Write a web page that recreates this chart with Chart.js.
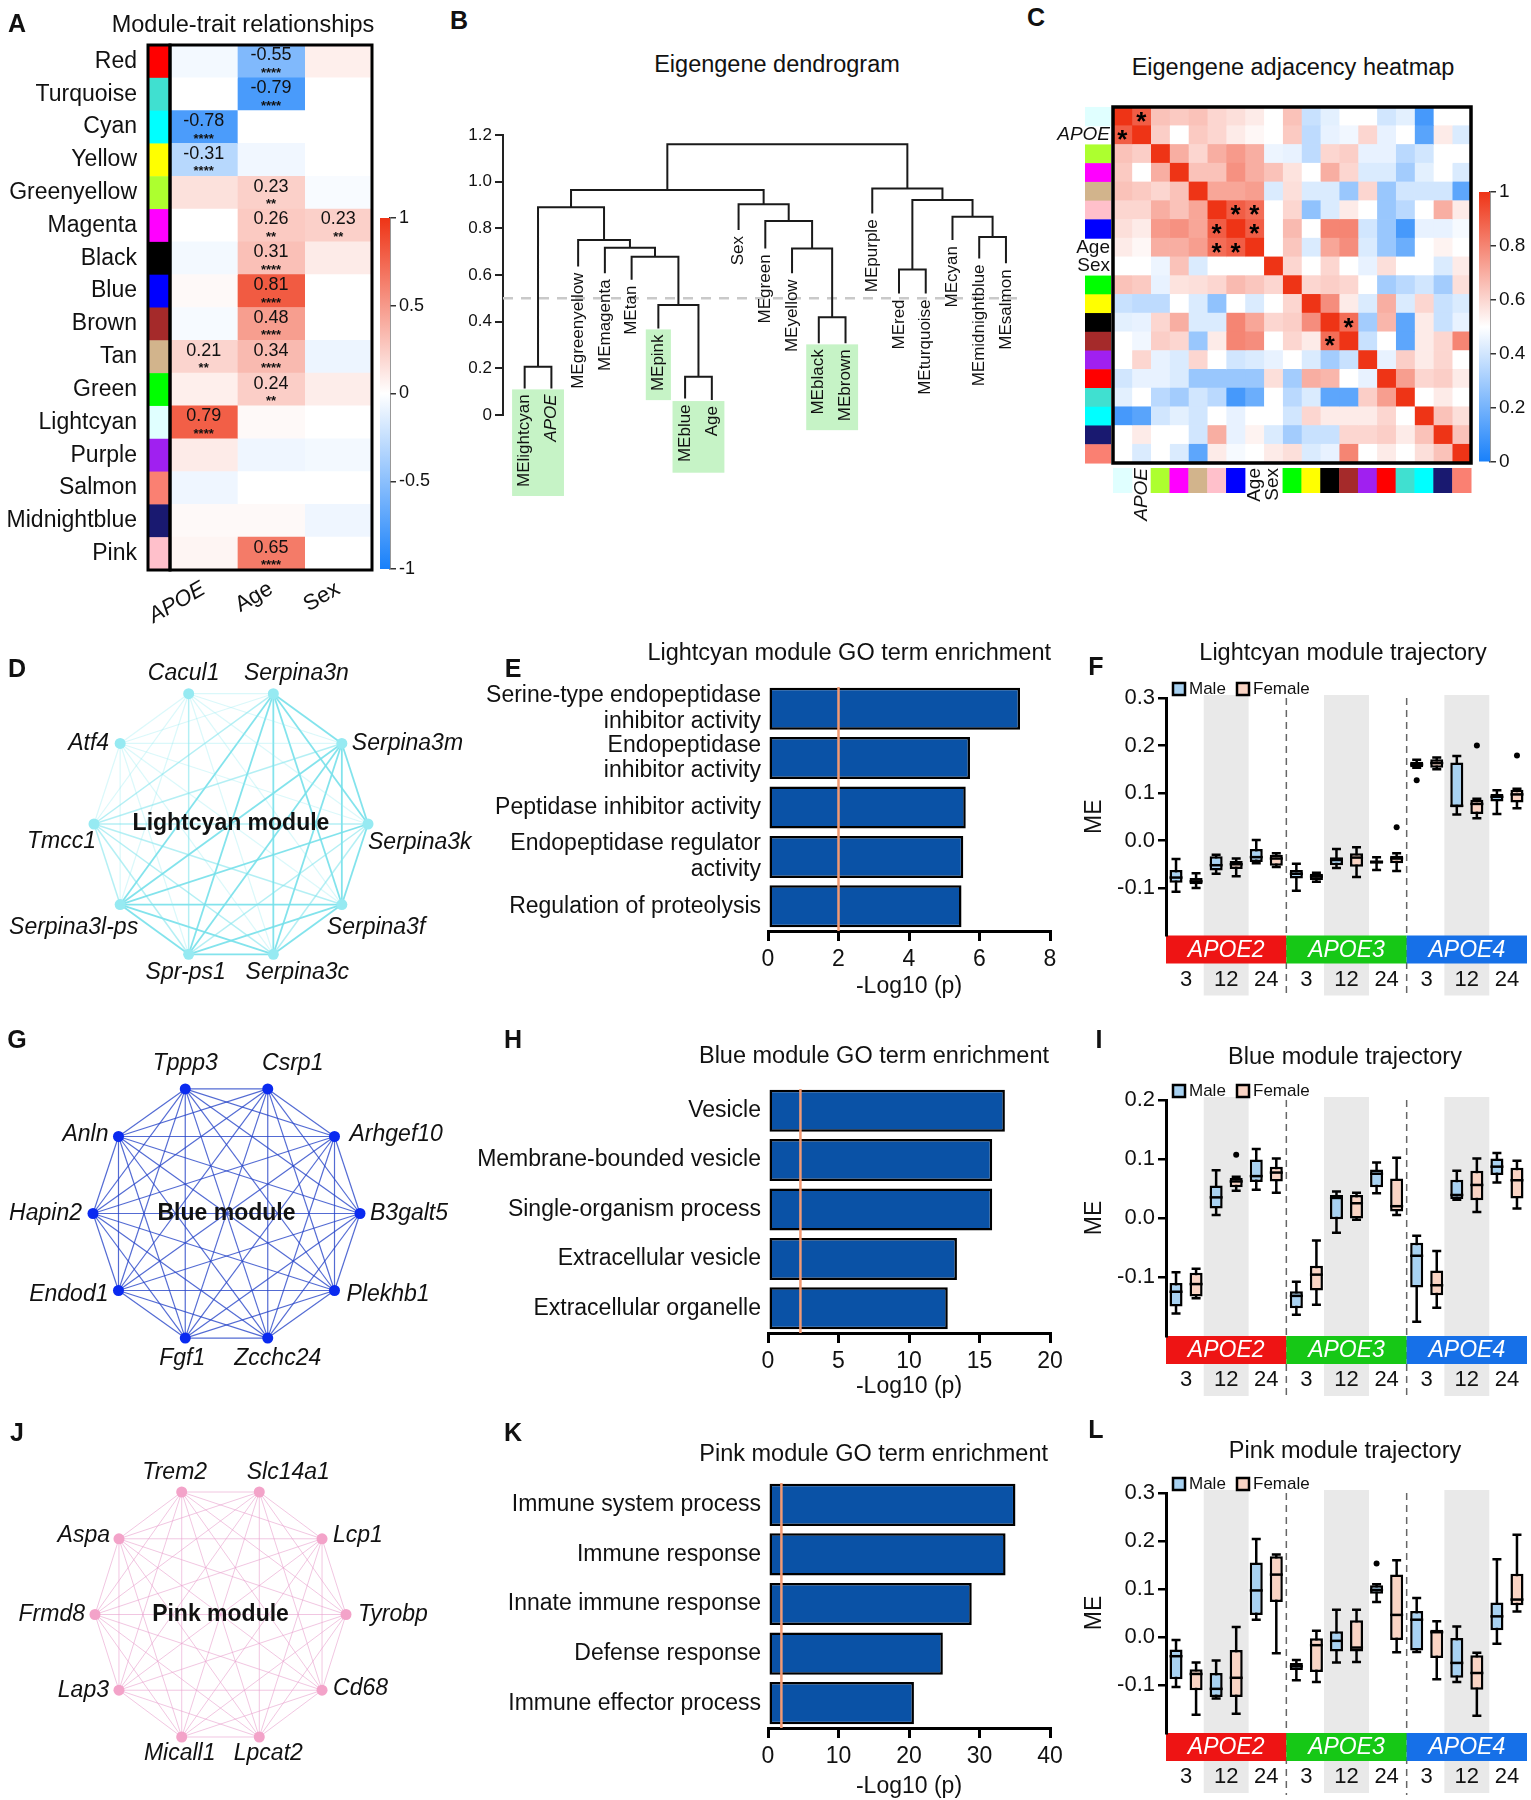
<!DOCTYPE html>
<html>
<head>
<meta charset="utf-8">
<script src="https://cdn.jsdelivr.net/npm/chart.js@4.4.1/dist/chart.umd.min.js"></script>
<style>
  body { margin: 0; background: #fff; }
  #page { position: relative; width: 1531px; height: 1800px; overflow: hidden; background: #fff;
          font-family: 'Liberation Sans', Arial, sans-serif; color: #111; }
  .txt { position: absolute; white-space: nowrap; line-height: 1; }
  canvas { position: absolute; }
</style>
</head>
<body>
<div id="page"></div>
<script>
// ---------- data ----------

// A: module-trait correlations
const moduleNames = ['Red', 'Turquoise', 'Cyan', 'Yellow', 'Greenyellow', 'Magenta', 'Black', 'Blue', 'Brown',
                     'Tan', 'Green', 'Lightcyan', 'Purple', 'Salmon', 'Midnightblue', 'Pink'];
const moduleColors = ['#ff0000', '#40e0d0', '#00ffff', '#ffff00', '#adff2f', '#ff00ff', '#000000', '#0000ff', '#a52a2a',
                      '#d2b48c', '#00ff00', '#e0ffff', '#a020f0', '#fa8072', '#191970', '#ffc0cb'];
const traitNames = ['APOE', 'Age', 'Sex'];
const apoeCorr = [-0.05, 0.00, -0.78, -0.31, 0.15, 0.00, -0.05, 0.03, -0.04, 0.21, 0.08, 0.79, 0.10, -0.07, 0.03, 0.05];
const ageCorr  = [-0.55, -0.79, 0.00, -0.06, 0.23, 0.26, 0.31, 0.81, 0.48, 0.34, 0.24, 0.03, -0.07, 0.00, 0.03, 0.65];
const sexCorr  = [0.08, 0.00, 0.00, 0.00, -0.03, 0.23, 0.10, 0.00, 0.00, -0.08, 0.09, 0.00, -0.05, 0.00, -0.07, 0.00];
const apoeStars = ['', '', '****', '****', '', '', '', '', '', '**', '', '****', '', '', '', ''];
const ageStars  = ['****', '****', '', '', '**', '**', '****', '****', '****', '****', '**', '', '', '', '', '****'];
const sexStars  = ['', '', '', '', '', '**', '', '', '', '', '', '', '', '', '', ''];

// B: eigengene dendrogram
const leafNames = ['MElightcyan', 'APOE', 'MEgreenyellow', 'MEmagenta', 'MEtan', 'MEpink', 'MEblue', 'Age', 'Sex',
                   'MEgreen', 'MEyellow', 'MEblack', 'MEbrown', 'MEpurple', 'MEred', 'MEturquoise', 'MEcyan',
                   'MEmidnightblue', 'MEsalmon'];
const leafEnds = [0.114, 0.114, 0.636, 0.607, 0.580, 0.371, 0.071, 0.064, 0.793, 0.714, 0.607, 0.307, 0.307,
                  0.864, 0.521, 0.521, 0.750, 0.671, 0.650];
// [left, right, height]; ids from 19 up name earlier merges
const merges = [
  [0, 1, 0.207], [6, 7, 0.164], [5, 20, 0.471], [4, 21, 0.678], [3, 22, 0.717], [2, 23, 0.750],
  [19, 24, 0.890], [11, 12, 0.419], [10, 26, 0.714], [9, 27, 0.831], [8, 28, 0.903], [25, 29, 0.964],
  [14, 15, 0.624], [17, 18, 0.763], [16, 32, 0.850], [31, 33, 0.921], [13, 34, 0.971], [30, 35, 1.160]
];
const cutHeight = 0.5;
const highlightGroups = [[0, 1], [5, 5], [6, 7], [11, 12]];

// C: eigengene adjacency (lower triangle, diagonal = 1)
const adjNames = ['lightcyan', 'APOE', 'greenyellow', 'magenta', 'tan', 'pink', 'blue', 'Age', 'Sex', 'green',
                  'yellow', 'black', 'brown', 'purple', 'red', 'turquoise', 'cyan', 'midnightblue', 'salmon'];
const adjColors = ['#e0ffff', null, '#adff2f', '#ff00ff', '#d2b48c', '#ffc0cb', '#0000ff', null, null, '#00ff00',
                   '#ffff00', '#000000', '#a52a2a', '#a020f0', '#ff0000', '#40e0d0', '#00ffff', '#191970', '#fa8072'];
const adjLower = [
  [0.90],
  [0.65, 0.62],
  [0.63, 0.50, 0.70],
  [0.65, 0.63, 0.60, 0.65],
  [0.60, 0.60, 0.70, 0.65, 0.72],
  [0.58, 0.55, 0.75, 0.77, 0.72, 0.90],
  [0.55, 0.52, 0.70, 0.70, 0.74, 0.86, 0.90],
  [0.50, 0.50, 0.46, 0.65, 0.42, 0.50, 0.50, 0.50],
  [0.65, 0.63, 0.45, 0.57, 0.58, 0.60, 0.67, 0.64, 0.60],
  [0.38, 0.36, 0.36, 0.50, 0.42, 0.26, 0.50, 0.42, 0.50, 0.60],
  [0.44, 0.45, 0.60, 0.70, 0.42, 0.42, 0.80, 0.72, 0.60, 0.62, 0.78],
  [0.50, 0.47, 0.62, 0.60, 0.28, 0.55, 0.80, 0.78, 0.50, 0.60, 0.55, 0.86],
  [0.50, 0.60, 0.45, 0.42, 0.60, 0.50, 0.40, 0.42, 0.45, 0.50, 0.42, 0.30, 0.38],
  [0.40, 0.45, 0.45, 0.42, 0.28, 0.28, 0.28, 0.28, 0.58, 0.30, 0.70, 0.68, 0.50, 0.45],
  [0.44, 0.50, 0.35, 0.30, 0.40, 0.35, 0.10, 0.18, 0.50, 0.35, 0.42, 0.15, 0.15, 0.62, 0.74],
  [0.10, 0.14, 0.40, 0.44, 0.40, 0.50, 0.45, 0.50, 0.50, 0.40, 0.60, 0.55, 0.55, 0.55, 0.60, 0.50],
  [0.50, 0.55, 0.50, 0.50, 0.40, 0.70, 0.45, 0.53, 0.42, 0.30, 0.38, 0.38, 0.60, 0.60, 0.62, 0.55, 0.65],
  [0.50, 0.42, 0.50, 0.42, 0.15, 0.55, 0.48, 0.50, 0.55, 0.58, 0.42, 0.45, 0.80, 0.50, 0.55, 0.50, 0.58, 0.65]
];
const adjStars = [[0, 1], [5, 6], [5, 7], [6, 7], [11, 12]];

// D, G, J: hub gene networks (edge weights as lower-triangle rows, 0 = none)
const lightcyanGenes = ['Serpina3k', 'Serpina3m', 'Serpina3n', 'Cacul1', 'Atf4', 'Tmcc1', 'Serpina3l-ps', 'Spr-ps1', 'Serpina3c', 'Serpina3f'];
const lightcyanEdges = ['3', '33', '111', '1111', '22211', '333112', '2332123', '23311233', '333112333'];
const blueGenes = ['B3galt5', 'Arhgef10', 'Csrp1', 'Tppp3', 'Anln', 'Hapin2', 'Endod1', 'Fgf1', 'Zcchc24', 'Plekhb1'];
const blueEdges = ['2', '22', '222', '2222', '22222', '222222', '2222222', '22222222', '222222222'];
const pinkGenes = ['Tyrobp', 'Lcp1', 'Slc14a1', 'Trem2', 'Aspa', 'Frmd8', 'Lap3', 'Micall1', 'Lpcat2', 'Cd68'];
const pinkEdges = ['2', '22', '222', '2222', '22222', '222222', '2222222', '22222222', '222222222'];

// E, H, K: GO term enrichment
const lightcyanTerms = [['Serine-type endopeptidase', 'inhibitor activity'], ['Endopeptidase', 'inhibitor activity'],
                        'Peptidase inhibitor activity', ['Endopeptidase regulator', 'activity'], 'Regulation of proteolysis'];
const lightcyanLogP = [7.15, 5.73, 5.61, 5.54, 5.49];
const blueTerms = ['Vesicle', 'Membrane-bounded vesicle', 'Single-organism process', 'Extracellular vesicle', 'Extracellular organelle'];
const blueLogP = [16.8, 15.9, 15.9, 13.4, 12.75];
const pinkTerms = ['Immune system process', 'Immune response', 'Innate immune response', 'Defense response', 'Immune effector process'];
const pinkLogP = [35.1, 33.7, 28.9, 24.8, 20.7];
const goCutoffs = [2.0, 2.3, 1.9];

// F, I, L: module eigengene trajectories, [min, q1, median, q3, max]
const genotypes = ['APOE2', 'APOE3', 'APOE4'];
const ageGroups = ['3', '12', '24', '3', '12', '24', '3', '12', '24'];
const lightcyanMale = [
  [-0.108, -0.089, -0.078, -0.062, -0.039], [-0.070, -0.063, -0.052, -0.033, -0.030], [-0.048, -0.045, -0.035, -0.018, 0.001],
  [-0.106, -0.080, -0.070, -0.062, -0.049], [-0.058, -0.052, -0.041, -0.035, -0.018], [-0.062, -0.049, -0.045, -0.042, -0.035],
  [0.153, 0.154, 0.160, 0.166, 0.170], [0.055, 0.070, 0.073, 0.164, 0.178], [0.056, 0.082, 0.092, 0.098, 0.106]];
const lightcyanFemale = [
  [-0.100, -0.092, -0.086, -0.079, -0.069], [-0.075, -0.060, -0.050, -0.043, -0.038], [-0.056, -0.053, -0.038, -0.030, -0.027],
  [-0.087, -0.083, -0.076, -0.070, -0.068], [-0.077, -0.055, -0.036, -0.027, -0.014], [-0.064, -0.048, -0.038, -0.032, -0.027],
  [0.150, 0.153, 0.163, 0.171, 0.175], [0.047, 0.056, 0.077, 0.086, 0.088], [0.068, 0.080, 0.097, 0.107, 0.109]];
const lightcyanMaleOut = [[], [], [], [], [], [], [0.127], [], []];
const lightcyanFemaleOut = [[], [], [], [], [], [0.028], [], [0.200], [0.179]];
const blueMale = [
  [-0.162, -0.150, -0.125, -0.110, -0.092], [0.005, 0.016, 0.035, 0.055, 0.081], [0.048, 0.061, 0.071, 0.099, 0.117],
  [-0.164, -0.153, -0.132, -0.124, -0.108], [-0.025, -0.002, 0.034, 0.039, 0.045], [0.042, 0.052, 0.075, 0.082, 0.094],
  [-0.176, -0.118, -0.064, -0.042, -0.030], [0.031, 0.032, 0.039, 0.065, 0.080], [0.060, 0.073, 0.087, 0.101, 0.110]];
const blueFemale = [
  [-0.136, -0.133, -0.112, -0.093, -0.086], [0.046, 0.052, 0.062, 0.068, 0.070], [0.043, 0.062, 0.077, 0.087, 0.101],
  [-0.147, -0.123, -0.096, -0.081, -0.038], [-0.003, -0.001, 0.025, 0.039, 0.043], [0.005, 0.011, 0.020, 0.067, 0.102],
  [-0.152, -0.131, -0.114, -0.089, -0.056], [0.010, 0.030, 0.056, 0.080, 0.101], [0.016, 0.033, 0.064, 0.085, 0.097]];
const blueMaleOut = [[], [], [], [], [], [], [], [], []];
const blueFemaleOut = [[], [0.107], [], [], [], [], [], [], []];
const pinkMale = [
  [-0.104, -0.088, -0.040, -0.026, -0.006], [-0.128, -0.125, -0.108, -0.075, -0.049], [0.036, 0.046, 0.097, 0.155, 0.204],
  [-0.090, -0.069, -0.061, -0.054, -0.048], [-0.053, -0.030, -0.008, 0.012, 0.057], [0.073, 0.090, 0.098, 0.108, 0.110],
  [-0.031, -0.028, 0.036, 0.054, 0.081], [-0.094, -0.085, -0.054, -0.002, 0.022], [-0.014, 0.014, 0.043, 0.072, 0.162]];
const pinkFemale = [
  [-0.162, -0.111, -0.077, -0.067, -0.053], [-0.160, -0.125, -0.085, -0.027, 0.021], [-0.034, 0.073, 0.130, 0.168, 0.172],
  [-0.094, -0.073, -0.017, 0.000, 0.013], [-0.052, -0.030, -0.022, 0.035, 0.057], [-0.032, -0.006, 0.046, 0.130, 0.160],
  [-0.088, -0.044, 0.010, 0.015, 0.033], [-0.164, -0.110, -0.075, -0.038, -0.033], [0.053, 0.066, 0.078, 0.132, 0.213]];
const pinkMaleOut = [[], [], [], [], [], [0.153], [], [], []];
const pinkFemaleOut = [[], [], [], [], [], [], [], [], []];

// ---------- setup ----------
const SANS = "'Liberation Sans', Arial, Helvetica, sans-serif";
Chart.defaults.font.family = SANS;
Chart.defaults.color = '#111';
Chart.defaults.plugins.legend.display = false;
Chart.defaults.plugins.tooltip.enabled = false;

const page = document.getElementById('page');

function makeCanvas(left, top, width, height) {
  const c = document.createElement('canvas');
  c.width = width;
  c.height = height;
  c.style.left = left + 'px';
  c.style.top = top + 'px';
  c.style.width = width + 'px';
  c.style.height = height + 'px';
  page.appendChild(c);
  return c;
}

function addText(text, x, y, css, anchor) {
  const d = document.createElement('div');
  d.className = 'txt';
  d.textContent = text;
  d.style.cssText = css;
  d.style.left = x + 'px';
  d.style.top = y + 'px';
  const tx = anchor === 'right' ? '-100%' : anchor === 'left' ? '0' : '-50%';
  d.style.transform = 'translate(' + tx + ', -50%)';
  page.appendChild(d);
}

function base(extra) {
  return Object.assign({responsive: false, devicePixelRatio: 1, animation: false, events: []}, extra);
}

// fix an axis box to a set size and drop the label overhang padding
function fitTo(size) {
  return s => {
    if (s.isHorizontal()) s.height = size; else s.width = size;
    s.paddingTop = s.paddingBottom = s.paddingLeft = s.paddingRight = 0;
  };
}

const WHITE = [255, 255, 255], HOT = [238, 52, 22], COLD = [24, 128, 250];
function mix(a, b, t) {
  return 'rgb(' + a.map((v, k) => Math.round(v + (b[k] - v) * t)).join(',') + ')';
}
function divColor(t) {
  return t >= 0 ? mix(WHITE, HOT, Math.min(t, 1)) : mix(WHITE, COLD, Math.min(-t, 1));
}

function colorBar(left, top, width, height, pad, axisW, min, max, step, fontSize) {
  new Chart(makeCanvas(left, top, width, height), {
    type: 'bar',
    data: {labels: [''], datasets: [{
      data: [[min, max]], barPercentage: 1, categoryPercentage: 1, borderWidth: 0,
      backgroundColor: c => {
        const a = c.chart.chartArea;
        if (!a) return '#fff';
        const g = c.chart.ctx.createLinearGradient(0, a.bottom, 0, a.top);
        g.addColorStop(0, divColor(-1));
        g.addColorStop(0.5, divColor(0));
        g.addColorStop(1, divColor(1));
        return g;
      }
    }]},
    options: base({
      layout: {padding: pad},
      scales: {
        x: {display: false},
        y: {position: 'right', min: min, max: max,
            ticks: {stepSize: step, callback: v => String(Math.round(v * 10) / 10), font: {size: fontSize}, color: '#111', padding: 3},
            grid: {drawOnChartArea: false, tickLength: 6, color: '#333', lineWidth: 1.5},
            border: {color: '#333', width: 1.5},
            afterFit: fitTo(axisW)}
      }
    })
  });
}

// ---------- A: module-trait heatmap ----------
const traitCorr = [apoeCorr, ageCorr, sexCorr];
const traitStars = [apoeStars, ageStars, sexStars];

const heatAPlugin = {
  id: 'heatA',
  afterDatasetsDraw(chart) {
    const {ctx, chartArea: a, scales: {x, y}} = chart;
    const rowH = (a.bottom - a.top) / moduleNames.length;
    ctx.save();
    moduleColors.forEach((col, r) => {
      ctx.fillStyle = col;
      ctx.fillRect(a.left - 22, y.getPixelForValue(r) - rowH / 2, 22, rowH + 0.5);
    });
    ctx.fillStyle = '#111';
    ctx.textAlign = 'center';
    ctx.textBaseline = 'middle';
    traitStars.forEach((stars, c) => stars.forEach((s, r) => {
      if (!s) return;
      const cx = x.getPixelForValue(c + 0.5), cy = y.getPixelForValue(r);
      ctx.font = '18px ' + SANS;
      ctx.fillText(traitCorr[c][r].toFixed(2), cx, cy - 6);
      ctx.font = 'bold 13px ' + SANS;
      ctx.fillText(s, cx, cy + 12);
    }));
    ctx.strokeStyle = '#000';
    ctx.lineWidth = 3;
    ctx.strokeRect(a.left - 22, a.top, 22, a.bottom - a.top);
    ctx.strokeRect(a.left, a.top, a.right - a.left, a.bottom - a.top);
    ctx.restore();
  }
};

new Chart(makeCanvas(0, 30, 382, 600), {
  type: 'bar',
  data: {
    labels: moduleNames,
    datasets: traitCorr.map((vals, c) => ({
      data: vals.map(() => [c, c + 1]),
      backgroundColor: vals.map(divColor),
      borderWidth: 0, barPercentage: 1, categoryPercentage: 1, grouped: false
    }))
  },
  options: base({
    indexAxis: 'y',
    layout: {padding: {top: 15, right: 10, left: 0, bottom: 0}},
    scales: {
      x: {type: 'linear', min: 0, max: traitNames.length,
          afterBuildTicks: s => { s.ticks = traitNames.map((_, i) => ({value: i + 0.5})); },
          ticks: {callback: (v, i) => traitNames[i], minRotation: 30, maxRotation: 30, padding: 6, color: '#111',
                  font: c => ({size: 22, style: c.index === 0 ? 'italic' : 'normal'})},
          grid: {display: false, drawTicks: false}, border: {display: false},
          afterFit: fitTo(60)},
      y: {ticks: {font: {size: 23}, color: '#111', padding: 33, autoSkip: false},
          grid: {display: false, drawTicks: false}, border: {display: false},
          afterFit: fitTo(170)}
    }
  }),
  plugins: [heatAPlugin]
});
colorBar(372, 205, 70, 380, {left: 8, top: 13, right: 0, bottom: 16}, 52, -1, 1, 0.5, 18);

// ---------- B: dendrogram ----------
const treePts = [];
(function () {
  const pos = leafNames.map((_, i) => i);
  const hgt = leafEnds.slice();
  merges.forEach(([l, r, h]) => {
    treePts.push({x: pos[l], y: hgt[l]}, {x: pos[l], y: h}, {x: pos[r], y: h}, {x: pos[r], y: hgt[r]}, {x: pos[r], y: null});
    pos.push((pos[l] + pos[r]) / 2);
    hgt.push(h);
  });
})();

const dendroPlugin = {
  id: 'dendro',
  beforeDatasetsDraw(chart) {
    const {ctx, scales: {x, y}} = chart;
    ctx.save();
    ctx.font = '17px ' + SANS;
    ctx.fillStyle = '#c6f3c6';
    highlightGroups.forEach(([a, b]) => {
      let top = 0, w = 0;
      for (let i = a; i <= b; i++) {
        top = Math.max(top, y.getPixelForValue(leafEnds[i]));
        w = Math.max(w, ctx.measureText(leafNames[i]).width);
      }
      const x0 = x.getPixelForValue(a - 0.47), x1 = x.getPixelForValue(b + 0.47);
      ctx.fillRect(x0, top + 1, x1 - x0, w + 14);
    });
    ctx.restore();
  },
  afterDatasetsDraw(chart) {
    const {ctx, scales: {x, y}} = chart;
    ctx.save();
    ctx.fillStyle = '#111';
    ctx.textAlign = 'right';
    ctx.textBaseline = 'middle';
    leafNames.forEach((name, i) => {
      ctx.font = (name === 'APOE' ? 'italic ' : '') + '17px ' + SANS;
      ctx.save();
      ctx.translate(x.getPixelForValue(i), y.getPixelForValue(leafEnds[i]) + 6);
      ctx.rotate(-Math.PI / 2);
      ctx.fillText(name, 0, 0);
      ctx.restore();
    });
    ctx.restore();
  }
};

new Chart(makeCanvas(440, 95, 590, 420), {
  type: 'scatter',
  data: {datasets: [
    {data: treePts, showLine: true, spanGaps: false, borderColor: '#1a1a1a', borderWidth: 2, pointRadius: 0, clip: false},
    {data: [{x: -0.81, y: cutHeight}, {x: leafNames.length - 0.4, y: cutHeight}], showLine: true, borderColor: '#c9c9c9',
     borderWidth: 2.5, borderDash: [10, 8], pointRadius: 0}
  ]},
  options: base({
    layout: {padding: {left: 0, top: 40, right: 8, bottom: 100}},
    scales: {
      x: {type: 'linear', min: -0.81, max: leafNames.length - 0.4, display: false},
      y: {min: 0, max: 1.2,
          ticks: {stepSize: 0.2, callback: v => Math.abs(v) < 1e-9 ? '0' : v.toFixed(1), font: {size: 17}, color: '#111', padding: 3},
          grid: {drawOnChartArea: false, tickLength: 8, color: '#222', lineWidth: 2},
          border: {color: '#222', width: 2},
          afterFit: fitTo(63)}
    }
  }),
  plugins: [dendroPlugin]
});

// ---------- C: adjacency heatmap ----------
const adjacency = adjNames.map((_, i) => adjNames.map((_, j) =>
  i === j ? 1 : (i > j ? adjLower[i - 1][j] : adjLower[j - 1][i])));

const heatCPlugin = {
  id: 'heatC',
  afterDatasetsDraw(chart) {
    const {ctx, chartArea: a, scales: {x, y}} = chart;
    const cell = (a.right - a.left) / adjNames.length;
    ctx.save();
    adjNames.forEach((name, i) => {
      const cy = y.getPixelForValue(i), cx = x.getPixelForValue(i + 0.5);
      if (adjColors[i]) {
        ctx.fillStyle = adjColors[i];
        ctx.fillRect(a.left - 28, cy - cell / 2, 26, cell + 0.5);
        ctx.fillRect(cx - cell / 2, a.bottom + 5, cell + 0.5, 25);
      } else {
        ctx.fillStyle = '#111';
        ctx.font = (name === 'APOE' ? 'italic ' : '') + '19px ' + SANS;
        ctx.textAlign = 'right';
        ctx.textBaseline = 'middle';
        ctx.fillText(name, a.left - 3, cy);
        ctx.save();
        ctx.translate(cx, a.bottom + 5);
        ctx.rotate(-Math.PI / 2);
        ctx.fillText(name, 0, 0);
        ctx.restore();
      }
    });
    ctx.fillStyle = '#000';
    ctx.font = 'bold 26px ' + SANS;
    ctx.textAlign = 'center';
    ctx.textBaseline = 'middle';
    adjStars.forEach(([r, c]) => {
      ctx.fillText('*', x.getPixelForValue(c + 0.5), y.getPixelForValue(r) + 6);
      ctx.fillText('*', x.getPixelForValue(r + 0.5), y.getPixelForValue(c) + 6);
    });
    ctx.strokeStyle = '#000';
    ctx.lineWidth = 3.5;
    ctx.strokeRect(a.left, a.top, a.right - a.left, a.bottom - a.top);
    ctx.restore();
  }
};

new Chart(makeCanvas(1040, 95, 435, 430), {
  type: 'bar',
  data: {
    labels: adjNames,
    datasets: adjNames.map((_, c) => ({
      data: adjNames.map(() => [c, c + 1]),
      backgroundColor: adjNames.map((_, r) => divColor((adjacency[r][c] - 0.5) * 2)),
      borderWidth: 0, barPercentage: 1, categoryPercentage: 1, grouped: false
    }))
  },
  options: base({
    indexAxis: 'y',
    layout: {padding: {left: 73, top: 12, right: 4, bottom: 62}},
    scales: {
      x: {type: 'linear', min: 0, max: adjNames.length, display: false},
      y: {display: false}
    }
  }),
  plugins: [heatCPlugin]
});
colorBar(1472, 180, 59, 295, {left: 7, top: 12, right: 0, bottom: 13}, 41, 0, 1, 0.2, 19);

// ---------- D, G, J: networks ----------
function network(left, top, width, height, pad, genes, edgeRows, look, labelPos, title) {
  const n = genes.length;
  const nodes = genes.map((g, i) => ({x: Math.cos(i * 2 * Math.PI / n), y: Math.sin(i * 2 * Math.PI / n)}));
  const edges = [];
  edgeRows.forEach((row, k) => row.split('').forEach((w, j) => {
    if (+w) edges.push({data: [Object.assign({}, nodes[k + 1]), Object.assign({}, nodes[j])], showLine: true,
                        borderColor: look.edge[+w], borderWidth: look.width[+w], pointRadius: 0, clip: false});
  }));
  new Chart(makeCanvas(left, top, width, height), {
    type: 'scatter',
    data: {datasets: [{data: nodes, pointRadius: look.r, pointBackgroundColor: look.node, pointBorderWidth: 0, clip: false}].concat(edges)},
    options: base({
      layout: {padding: pad},
      scales: {x: {min: -1, max: 1, display: false}, y: {min: -1, max: 1, display: false}}
    }),
    plugins: [{
      id: 'netLabels',
      afterDatasetsDraw(chart) {
        const {ctx, chartArea: a} = chart;
        const pts = chart.getDatasetMeta(0).data;
        ctx.save();
        ctx.fillStyle = '#111';
        ctx.textBaseline = 'middle';
        ctx.font = 'italic 23px ' + SANS;
        genes.forEach((g, i) => {
          const [dx, dy, al] = labelPos[i];
          ctx.textAlign = al;
          ctx.fillText(g, pts[i].x + dx, pts[i].y + dy);
        });
        ctx.font = 'bold 23px ' + SANS;
        ctx.textAlign = 'center';
        ctx.fillText(title, (a.left + a.right) / 2, (a.top + a.bottom) / 2);
        ctx.restore();
      }
    }]
  });
}

network(0, 640, 480, 360, {left: 94, top: 47, right: 112, bottom: 39}, lightcyanGenes, lightcyanEdges,
  {r: 5.5, node: 'rgb(150,234,242)', edge: [null, 'rgba(150,235,240,0.35)', 'rgba(130,228,236,0.6)', 'rgba(118,224,234,0.9)'], width: [0, 1.2, 1.5, 1.8]},
  [[0, 19, 'left'], [10, 0, 'left'], [23, -20, 'center'], [-5, -20, 'center'], [-11, 0, 'right'],
   [2, 18, 'right'], [18, 23, 'right'], [-3, 18, 'center'], [24, 18, 'center'], [-15, 23, 'left']],
  'Lightcyan module');
network(0, 1050, 480, 340, {left: 93, top: 32.5, right: 120, bottom: 45.5}, blueGenes, blueEdges,
  {r: 5.5, node: '#0a2af0', edge: [null, 'rgba(40,70,200,0.5)', 'rgba(40,70,200,0.8)', 'rgba(40,70,200,1)'], width: [0, 1, 1.2, 1.6]},
  [[10, 0, 'left'], [15, -2, 'left'], [25, -25, 'center'], [0, -25, 'center'], [-10, -2, 'right'],
   [-11, 0, 'right'], [-10, 4, 'right'], [-3, 21, 'center'], [10, 21, 'center'], [12, 4, 'left']],
  'Blue module');
network(0, 1450, 480, 330, {left: 95, top: 35.7, right: 134, bottom: 36.7}, pinkGenes, pinkEdges,
  {r: 5.5, node: '#f3a3c9', edge: [null, 'rgba(232,160,205,0.35)', 'rgba(232,160,205,0.6)', 'rgba(232,160,205,0.9)'], width: [0, 1, 1, 1.4]},
  [[12, 0, 'left'], [11, -3, 'left'], [29, -19, 'center'], [-7, -19, 'center'], [-9, -3, 'right'],
   [-10, 0, 'right'], [-10, 0, 'right'], [-2, 17, 'center'], [9, 17, 'center'], [11, -2, 'left']],
  'Pink module');

// ---------- E, H, K: GO enrichment bars ----------
function goChart(left, top, height, padTop, axisH, terms, logP, xMax, xStep, cutoff) {
  new Chart(makeCanvas(left, top, 640, height), {
    type: 'bar',
    data: {labels: terms, datasets: [{data: logP, backgroundColor: '#0a52a6', borderColor: '#000', borderWidth: 2.5,
                                       borderSkipped: false, barPercentage: 0.85, categoryPercentage: 1}]},
    options: base({
      indexAxis: 'y',
      layout: {padding: {top: padTop, right: 30, left: 0, bottom: 0}},
      scales: {
        x: {min: 0, max: xMax,
            ticks: {stepSize: xStep, font: {size: 23}, color: '#111', padding: 5},
            grid: {drawOnChartArea: false, tickLength: 10, color: '#000', lineWidth: 3},
            border: {color: '#000', width: 3},
            title: {display: true, text: '-Log10 (p)', font: {size: 23}, color: '#111', padding: 0},
            afterFit: fitTo(axisH)},
        y: {ticks: {font: {size: 23, lineHeight: 1.12}, color: '#111', padding: 7, autoSkip: false},
            grid: {display: false, drawTicks: false}, border: {display: false},
            afterFit: fitTo(328)}
      }
    }),
    plugins: [{
      id: 'cutoff',
      afterDatasetsDraw(chart) {
        const {ctx, chartArea: a, scales: {x}} = chart;
        const px = x.getPixelForValue(cutoff);
        ctx.save();
        ctx.strokeStyle = '#f39a72';
        ctx.lineWidth = 2.5;
        ctx.beginPath();
        ctx.moveTo(px, a.top + 3);
        ctx.lineTo(px, a.bottom);
        ctx.stroke();
        ctx.restore();
      }
    }]
  });
}
goChart(440, 640, 360, 44, 69, lightcyanTerms, lightcyanLogP, 8, 2, goCutoffs[0]);
goChart(440, 1040, 360, 46, 67, blueTerms, blueLogP, 20, 5, goCutoffs[1]);
goChart(440, 1430, 370, 50, 72, pinkTerms, pinkLogP, 40, 10, goCutoffs[2]);

// ---------- F, I, L: trajectory box plots ----------
const MALE_FILL = 'rgb(168,210,242)', FEMALE_FILL = 'rgb(250,212,196)';
const GENO_FILL = ['rgb(238,20,20)', 'rgb(22,200,22)', 'rgb(22,112,232)'];

function boxChart(left, top, height, padTop, axisH, yMin, yMax, male, female, maleOut, femaleOut) {
  const stats = [male, female], outs = [maleOut, femaleOut];
  const per = ageGroups.length / genotypes.length;
  const boxPlugin = {
    id: 'boxes',
    beforeDraw(chart) {
      const {ctx, chartArea: a, scales: {x}} = chart;
      const step = (a.right - a.left) / ageGroups.length;
      ctx.save();
      ctx.fillStyle = '#e9e9e9';
      ageGroups.forEach((g, i) => {
        if (g !== '12') return;
        const cx = x.getPixelForValue(i);
        ctx.fillRect(cx - step * 0.56, a.top - 3, step * 1.12, a.bottom - a.top + 63);
      });
      ctx.strokeStyle = '#666';
      ctx.lineWidth = 1.5;
      ctx.setLineDash([7, 5]);
      for (let g = 1; g < genotypes.length; g++) {
        const bx = x.getPixelForValue(g * per) - step / 2;
        ctx.beginPath();
        ctx.moveTo(bx, a.top);
        ctx.lineTo(bx, a.bottom + 62);
        ctx.stroke();
      }
      ctx.setLineDash([]);
      ctx.textAlign = 'center';
      ctx.textBaseline = 'middle';
      ctx.font = 'italic 23px ' + SANS;
      genotypes.forEach((name, g) => {
        const x0 = x.getPixelForValue(g * per) - step / 2, x1 = x.getPixelForValue(g * per + per - 1) + step / 2;
        ctx.fillStyle = GENO_FILL[g];
        ctx.fillRect(x0, a.bottom, x1 - x0, 28);
        ctx.fillStyle = '#fff';
        ctx.fillText(name, (x0 + x1) / 2, a.bottom + 15);
      });
      ctx.restore();
    },
    beforeDatasetsDraw(chart) {
      const {ctx, scales: {y}} = chart;
      ctx.save();
      ctx.strokeStyle = '#000';
      ctx.lineWidth = 2.5;
      stats.forEach((st, d) => chart.getDatasetMeta(d).data.forEach((bar, i) => {
        const lo = y.getPixelForValue(st[i][0]), hi = y.getPixelForValue(st[i][4]);
        ctx.beginPath();
        ctx.moveTo(bar.x, lo); ctx.lineTo(bar.x, hi);
        ctx.moveTo(bar.x - 4.5, lo); ctx.lineTo(bar.x + 4.5, lo);
        ctx.moveTo(bar.x - 4.5, hi); ctx.lineTo(bar.x + 4.5, hi);
        ctx.stroke();
      }));
      ctx.restore();
    },
    afterDatasetsDraw(chart) {
      const {ctx, scales: {y}} = chart;
      ctx.save();
      ctx.strokeStyle = '#000';
      ctx.fillStyle = '#000';
      ctx.lineWidth = 2.5;
      stats.forEach((st, d) => chart.getDatasetMeta(d).data.forEach((bar, i) => {
        const m = y.getPixelForValue(st[i][2]);
        ctx.beginPath();
        ctx.moveTo(bar.x - bar.width / 2, m); ctx.lineTo(bar.x + bar.width / 2, m);
        ctx.stroke();
        outs[d][i].forEach(v => {
          ctx.beginPath();
          ctx.arc(bar.x, y.getPixelForValue(v), 3, 0, 2 * Math.PI);
          ctx.fill();
        });
      }));
      ctx.restore();
    },
    afterDraw(chart) {
      const {ctx, chartArea: a} = chart;
      ctx.save();
      ctx.textBaseline = 'middle';
      ctx.textAlign = 'left';
      ctx.font = '17px ' + SANS;
      [['Male', MALE_FILL, 7], ['Female', FEMALE_FILL, 71]].forEach(([lab, fill, off]) => {
        const lx = a.left + off, ly = a.top - 9;
        ctx.fillStyle = fill;
        ctx.fillRect(lx, ly - 6, 12, 12);
        ctx.strokeStyle = '#000';
        ctx.lineWidth = 2.5;
        ctx.strokeRect(lx, ly - 6, 12, 12);
        ctx.fillStyle = '#111';
        ctx.fillText(lab, lx + 16, ly);
      });
      ctx.font = '23px ' + SANS;
      ctx.textAlign = 'center';
      ctx.translate(a.left - 71, (a.top + a.bottom) / 2);
      ctx.rotate(-Math.PI / 2);
      ctx.fillText('ME', 0, 0);
      ctx.restore();
    }
  };
  const boxSet = (label, st, fill) => ({
    label: label, data: st.map(s => [s[1], s[3]]), backgroundColor: fill, borderColor: '#000', borderWidth: 2.5,
    borderSkipped: false, barPercentage: 0.65, categoryPercentage: 1
  });
  new Chart(makeCanvas(left, top, 451, height), {
    type: 'bar',
    data: {labels: ageGroups, datasets: [boxSet('Male', male, MALE_FILL), boxSet('Female', female, FEMALE_FILL)]},
    options: base({
      layout: {padding: {top: padTop, right: 4, left: 0, bottom: 0}},
      scales: {
        x: {ticks: {font: {size: 22}, color: '#111', padding: 31, autoSkip: false, maxRotation: 0},
            grid: {display: false, drawTicks: false}, border: {display: false},
            afterFit: fitTo(axisH)},
        y: {min: yMin, max: yMax,
            ticks: {stepSize: 0.1, font: {size: 22}, color: '#111', padding: 3,
                    callback: v => v < yMin + 0.05 ? '' : (Math.round(v * 10) / 10).toFixed(1)},
            grid: {drawOnChartArea: false, tickLength: 8, lineWidth: 2.5,
                   color: c => (c.tick && c.tick.value < yMin + 0.05) ? 'rgba(0,0,0,0)' : '#000'},
            border: {color: '#000', width: 3},
            afterFit: fitTo(86)}
      }
    }),
    plugins: [boxPlugin]
  });
}
boxChart(1080, 635, 365, 63, 64.5, -0.2, 0.3, lightcyanMale, lightcyanFemale, lightcyanMaleOut, lightcyanFemaleOut);
boxChart(1080, 1040, 360, 60, 64, -0.2, 0.2, blueMale, blueFemale, blueMaleOut, blueFemaleOut);
boxChart(1080, 1430, 370, 63, 67, -0.2, 0.3, pinkMale, pinkFemale, pinkMaleOut, pinkFemaleOut);

// ---------- titles and panel letters ----------
const LETTER = 'font-weight:bold;font-size:25px;';
[['A', 17, 23], ['B', 459, 20], ['C', 1036, 17], ['D', 17, 668], ['E', 513, 668], ['F', 1096, 666],
 ['G', 17, 1039], ['H', 513, 1039], ['I', 1099, 1039], ['J', 17, 1432], ['K', 513, 1432], ['L', 1096, 1429]]
  .forEach(([t, x, y]) => addText(t, x, y, LETTER));

const TITLE = 'font-size:23.5px;';
addText('Module-trait relationships', 243, 25, TITLE);
addText('Eigengene dendrogram', 777, 65, TITLE);
addText('Eigengene adjacency heatmap', 1293, 68, TITLE);
addText('Lightcyan module GO term enrichment', 1051, 653, TITLE, 'right');
addText('Blue module GO term enrichment', 1049, 1056, TITLE, 'right');
addText('Pink module GO term enrichment', 1048, 1454, TITLE, 'right');
addText('Lightcyan module trajectory', 1343, 653, TITLE);
addText('Blue module trajectory', 1345, 1057, TITLE);
addText('Pink module trajectory', 1345, 1451, TITLE);
</script>
</body>
</html>
